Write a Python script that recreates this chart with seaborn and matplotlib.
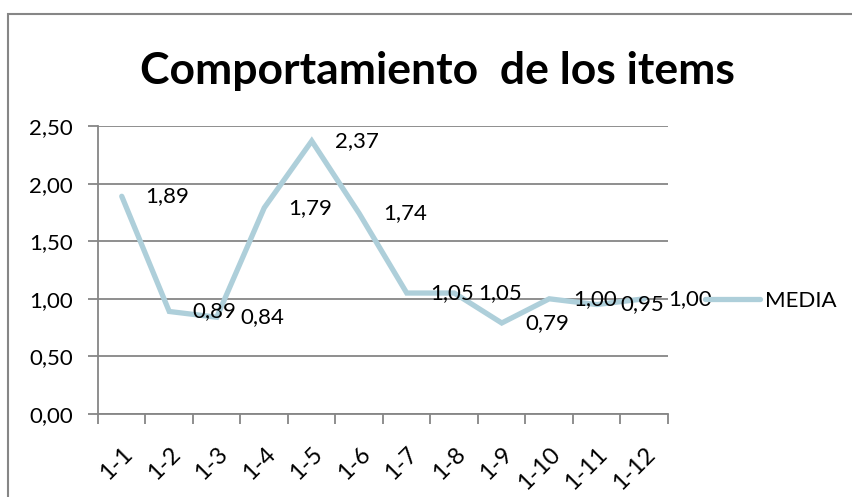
import matplotlib
matplotlib.use("Agg")
import matplotlib.pyplot as plt
import matplotlib.transforms as mtransforms
import seaborn as sns
import pandas as pd
from matplotlib.patches import Rectangle
from matplotlib.ticker import FixedLocator, FuncFormatter

categories = ["1-1", "1-2", "1-3", "1-4", "1-5", "1-6", "1-7", "1-8", "1-9", "1-10", "1-11", "1-12"]
media = [1.89, 0.89, 0.84, 1.79, 2.37, 1.74, 1.05, 1.05, 0.79, 1.00, 0.95, 1.00]
yticks = [0.0, 0.5, 1.0, 1.5, 2.0, 2.5]
title = "Comportamiento  de los items"
series_name = "MEDIA"

sns.set_theme(style="white")
plt.rcParams["font.family"] = ["Lato", "DejaVu Sans"]
plt.rcParams["text.color"] = "black"
plt.rcParams["xtick.labelcolor"] = "black"
plt.rcParams["ytick.labelcolor"] = "black"

line_color = "#AECFDA"
grid_color = "#868686"

df = pd.DataFrame({"cat": categories, "val": media, "serie": series_name})
df["x"] = range(len(categories))

fig = plt.figure(figsize=(8.53, 4.97), dpi=100)
ax = fig.add_axes([98 / 853, 1 - 414 / 497, 570 / 853, 288 / 497])

sns.lineplot(data=df, x="x", y="val", ax=ax, color=line_color, linewidth=3.8,
             legend=False, solid_capstyle="round", solid_joinstyle="miter")

ax.set_xlim(-0.5, len(categories) - 0.5)
ax.set_ylim(0, 2.5)
ax.set_yticks(yticks)
ax.yaxis.set_major_formatter(FuncFormatter(lambda v, p: f"{v:.2f}".replace(".", ",")))
for y in yticks:
    ax.axhline(y, color=grid_color, linewidth=1.3, zorder=0)

ax.set_xticks(range(len(categories)))
ax.set_xticklabels(categories, rotation=45, ha="right", rotation_mode="anchor", fontsize=17, color="black")
offset = mtransforms.ScaledTranslation(6 / 100, 0, fig.dpi_scale_trans)
for lab in ax.get_xticklabels():
    lab.set_transform(lab.get_transform() + offset)
ax.xaxis.set_minor_locator(FixedLocator([i - 0.5 for i in range(len(categories) + 1)]))
ax.tick_params(axis="x", which="major", length=0, pad=21)
ax.tick_params(axis="x", which="minor", length=7, width=1.3, color=grid_color, direction="out", bottom=True)
ax.tick_params(axis="y", which="major", length=7, width=1.3, color=grid_color, direction="out", left=True, labelsize=16, pad=11)
ax.set_xlabel("")
ax.set_ylabel("")

for s in ["top", "right"]:
    ax.spines[s].set_visible(False)
for s in ["left", "bottom"]:
    ax.spines[s].set_color(grid_color)
    ax.spines[s].set_linewidth(1.3)

for xi, v in zip(df["x"], df["val"]):
    ax.annotate(f"{v:.2f}".replace(".", ","), (xi, v), xytext=(17, 0), textcoords="offset points",
                ha="left", va="center", fontsize=16, color="black", zorder=5)

fig.text(437 / 853, 1 - 71 / 497, title, ha="center", va="center", fontsize=32, fontweight="bold", color="black")

handle = plt.Line2D([], [], color=line_color, linewidth=3.8, solid_capstyle="round")
fig.legend([handle], [series_name], loc="center left", bbox_to_anchor=(696 / 853, 1 - 301 / 497),
           frameon=False, fontsize=16, handlelength=2.5, handletextpad=0.2, borderaxespad=0)

fig.patches.append(Rectangle((8 / 853, -0.1), 1.2, 1 - 14 / 497 + 0.1, transform=fig.transFigure,
                             fill=False, edgecolor=grid_color, linewidth=1.5))

fig.savefig("out.png", dpi=100)
